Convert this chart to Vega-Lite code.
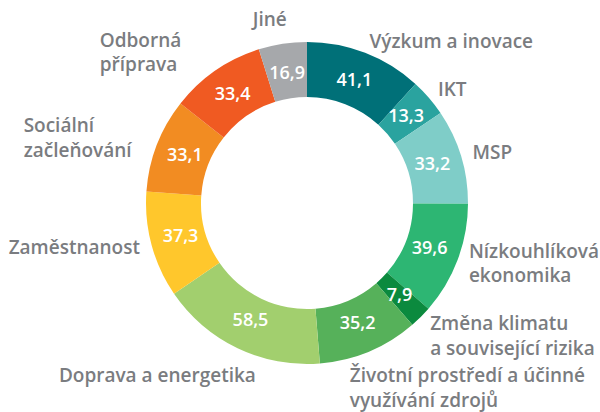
{
  "$schema": "https://vega.github.io/schema/vega-lite/v6.json",
  "autosize": "none",
  "width": 586,
  "height": 406,
  "padding": {"left": 14, "top": 0, "right": 0, "bottom": 6},
  "background": "white",
  "config": {"view": {"stroke": null}, "text": {"font": "Open Sans", "fontWeight": 600}},
  "data": {
    "values": [
      {"idx": 0, "category": "Výzkum a inovace", "value": 41.1, "label": "41,1"},
      {"idx": 1, "category": "IKT", "value": 13.3, "label": "13,3"},
      {"idx": 2, "category": "MSP", "value": 33.2, "label": "33,2"},
      {"idx": 3, "category": "Nízkouhlíková\nekonomika", "value": 39.6, "label": "39,6"},
      {"idx": 4, "category": "Změna klimatu\na související rizika", "value": 7.9, "label": "7,9"},
      {"idx": 5, "category": "Životní prostředí a účinné\nvyužívání zdrojů", "value": 35.2, "label": "35,2"},
      {"idx": 6, "category": "Doprava a energetika", "value": 58.5, "label": "58,5"},
      {"idx": 7, "category": "Zaměstnanost", "value": 37.3, "label": "37,3"},
      {"idx": 8, "category": "Sociální\nzačleňování", "value": 33.1, "label": "33,1"},
      {"idx": 9, "category": "Odborná\npříprava", "value": 33.4, "label": "33,4"},
      {"idx": 10, "category": "Jiné", "value": 16.9, "label": "16,9"}
    ]
  },
  "transform": [
    {"stack": "value", "groupby": [], "sort": [{"field": "idx", "order": "ascending"}], "as": ["v0", "v1"]},
    {"calculate": "(datum.v0 + datum.v1) / 2", "as": "mid"}
  ],
  "layer": [
    {
      "mark": {"type": "arc", "innerRadius": 106, "outerRadius": 161},
      "encoding": {
        "theta": {"field": "v0", "type": "quantitative", "scale": {"domain": [0, 349.5]}},
        "theta2": {"field": "v1"},
        "color": {
          "field": "idx", "type": "nominal", "legend": null,
          "scale": {
            "domain": [0,1,2,3,4,5,6,7,8,9,10],
            "range": ["#007078", "#2aa39f", "#7fcdc8", "#2db673", "#0b8a3e", "#56b15a", "#a2cf6e", "#ffc72c", "#f28c22", "#f05a22", "#a6a8ab"]
          }
        }
      }
    },
    {
      "mark": {"type": "text", "radius": 131, "fontSize": 18, "color": "white", "align": "center", "baseline": "middle"},
      "encoding": {
        "theta": {"field": "mid", "type": "quantitative", "stack": null},
        "text": {"field": "label"}
      }
    },
    {
      "transform": [{"filter": "datum.idx <= 2"}],
      "mark": {"type": "text", "radius": 173, "fontSize": 19, "color": "#7a7c80", "align": "left", "baseline": "middle"},
      "encoding": {
        "theta": {"field": "mid", "type": "quantitative", "stack": null},
        "text": {"field": "category"}
      }
    },
    {
      "transform": [{"filter": "datum.idx == 3"}],
      "mark": {"type": "text", "radius": 173, "fontSize": 19, "color": "#7a7c80", "align": "left", "baseline": "middle", "lineBreak": "\n", "lineHeight": 24, "dy": -12},
      "encoding": {
        "theta": {"field": "mid", "type": "quantitative", "stack": null},
        "text": {"field": "category"}
      }
    },
    {
      "transform": [{"filter": "datum.idx == 4"}],
      "mark": {"type": "text", "radius": 173, "fontSize": 19, "color": "#7a7c80", "align": "left", "baseline": "middle", "lineBreak": "\n", "lineHeight": 25, "dx": 1, "dy": -2},
      "encoding": {
        "theta": {"field": "mid", "type": "quantitative", "stack": null},
        "text": {"field": "category"}
      }
    },
    {
      "transform": [{"filter": "datum.idx == 5"}],
      "mark": {"type": "text", "radius": 173, "fontSize": 19, "color": "#7a7c80", "align": "left", "baseline": "middle", "lineBreak": "\n", "lineHeight": 25, "dx": -24, "dy": 13},
      "encoding": {
        "theta": {"field": "mid", "type": "quantitative", "stack": null},
        "text": {"field": "category"}
      }
    },
    {
      "transform": [{"filter": "datum.idx == 6"}],
      "mark": {"type": "text", "radius": 173, "fontSize": 19, "color": "#7a7c80", "align": "center", "baseline": "middle", "dx": -75, "dy": 17},
      "encoding": {
        "theta": {"field": "mid", "type": "quantitative", "stack": null},
        "text": {"field": "category"}
      }
    },
    {
      "transform": [{"filter": "datum.idx == 7"}],
      "mark": {"type": "text", "radius": 173, "fontSize": 19, "color": "#7a7c80", "align": "right", "baseline": "middle"},
      "encoding": {
        "theta": {"field": "mid", "type": "quantitative", "stack": null},
        "text": {"field": "category"}
      }
    },
    {
      "transform": [{"filter": "datum.idx == 8"}],
      "mark": {"type": "text", "radius": 173, "fontSize": 19, "color": "#7a7c80", "align": "left", "baseline": "middle", "lineBreak": "\n", "lineHeight": 25, "dx": -122, "dy": -15},
      "encoding": {
        "theta": {"field": "mid", "type": "quantitative", "stack": null},
        "text": {"field": "category"}
      }
    },
    {
      "transform": [{"filter": "datum.idx == 9"}],
      "mark": {"type": "text", "radius": 173, "fontSize": 19, "color": "#7a7c80", "align": "left", "baseline": "middle", "lineBreak": "\n", "lineHeight": 24, "dx": -109, "dy": -20},
      "encoding": {
        "theta": {"field": "mid", "type": "quantitative", "stack": null},
        "text": {"field": "category"}
      }
    },
    {
      "transform": [{"filter": "datum.idx == 10"}],
      "mark": {"type": "text", "radius": 173, "fontSize": 19, "color": "#7a7c80", "align": "right", "baseline": "middle", "dx": 6, "dy": -12},
      "encoding": {
        "theta": {"field": "mid", "type": "quantitative", "stack": null},
        "text": {"field": "category"}
      }
    }
  ]
}
